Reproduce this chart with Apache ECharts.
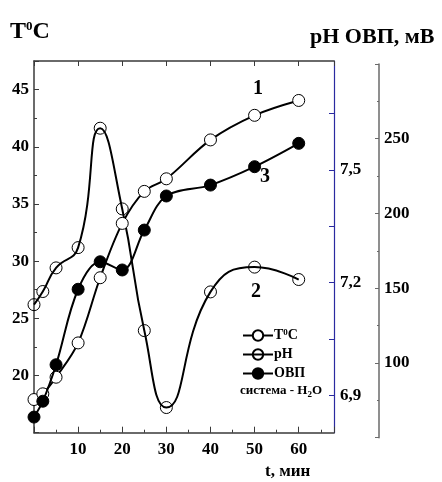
<!DOCTYPE html>
<html>
<head>
<meta charset="utf-8">
<script src="https://cdn.jsdelivr.net/npm/echarts@6/dist/echarts.min.js"></script>
<style>
html,body{margin:0;padding:0;background:#fff;}
#c{width:442px;height:482px;}
</style>
</head>
<body>
<div id="c"></div>
<script>
// ---- data ----
var timeMin = [0, 2, 5, 10, 15, 20, 25, 30, 40, 50, 60];
var tempC   = [17.9, 18.4, 19.85, 22.85, 28.55, 33.3, 36.1, 37.2, 40.6, 42.75, 44.05];
var pHvals  = [7.141, 7.176, 7.239, 7.293, 7.611, 7.396, 7.072, 6.867, 7.175, 7.241, 7.208];
var orpMV   = [63.8, 74.4, 98.8, 149.3, 167.7, 162.2, 188.9, 211.7, 219, 231.3, 246.9];
var xTickLabels = [10, 20, 30, 40, 50, 60];
var tTickLabels = [20, 25, 30, 35, 40, 45];
var pHTickLabels = [6.9, 7.2, 7.5];
var pHTicks = [6.9, 7.05, 7.2, 7.35, 7.5, 7.65];
var orpTickLabels = [100, 150, 200, 250];

function pairs(xs, ys){ return xs.map(function(x,i){ return [x, ys[i]]; }); }

var FONT = '"Liberation Serif", "DejaVu Serif", serif';
var axisDark = '#3a3a3a';
var blue = '#2a2aa0';
var grey = '#6a6a6a';

var chart = echarts.init(document.getElementById('c'), null, {renderer:'canvas'});
var labelStyle = {fontFamily: FONT, fontWeight:'bold', fontSize:17, color:'#000'};

var option = {
  backgroundColor:'#fff',
  animation:false,
  grid:[
    {left:34, right:108, top:61, bottom:49.3},
    {left:34, right:108, top:64, height:373.7}
  ],
  xAxis:[
    {gridIndex:0, type:'value', min:0, max:68, interval:10, position:'bottom',
     axisLine:{onZero:false, lineStyle:{color:axisDark, width:1.5}},
     axisTick:{inside:true, length:6, lineStyle:{color:axisDark}},
     minorTick:{show:true, splitNumber:2, length:3, lineStyle:{color:axisDark}},
     splitLine:{show:false},
     axisLabel:Object.assign({margin:8, customValues: xTickLabels}, labelStyle)
    },
    {gridIndex:0, type:'value', min:0, max:68, interval:10, position:'top',
     axisLine:{onZero:false, lineStyle:{color:axisDark, width:1.5}},
     axisTick:{inside:true, length:5, lineStyle:{color:axisDark}},
     minorTick:{show:false},
     splitLine:{show:false},
     axisLabel:{show:false}
    },
    {gridIndex:1, type:'value', min:0, max:68, show:false}
  ],
  yAxis:[
    {gridIndex:0, type:'value', min:15, max:47.5, interval:5, position:'left',
     axisLine:{show:true, onZero:false, lineStyle:{color:axisDark, width:1.5}},
     axisTick:{show:true, inside:true, length:5, lineStyle:{color:axisDark}},
     minorTick:{show:true, splitNumber:2, length:3, lineStyle:{color:axisDark}},
     splitLine:{show:false},
     axisLabel:Object.assign({margin:5, customValues: tTickLabels}, labelStyle)
    },
    {gridIndex:0, type:'value', min:6.8, max:7.79, position:'right',
     axisLine:{show:true, onZero:false, lineStyle:{color:blue, width:1.2}},
     axisTick:{show:true, inside:true, length:5, customValues: pHTicks, lineStyle:{color:blue}},
     splitLine:{show:false},
     axisLabel:Object.assign({margin:6, customValues: pHTickLabels,
        formatter:function(v){ return v.toFixed(1).replace('.', ','); }}, labelStyle)
    },
    {gridIndex:1, type:'value', min:50, max:300, interval:50, position:'right', offset:45,
     axisLine:{show:true, onZero:false, lineStyle:{color:grey, width:1.5}},
     axisTick:{show:true, inside:true, length:4, lineStyle:{color:grey}},
     minorTick:{show:true, splitNumber:2, length:2, lineStyle:{color:grey}},
     splitLine:{show:false},
     axisLabel:Object.assign({margin:5, customValues: orpTickLabels}, labelStyle)
    }
  ],
  legend:{
    orient:'vertical', left:237, top:323, itemGap:5, itemWidth:30, itemHeight:13,
    data:['T','pH','ОВП'],
    formatter:function(n){ return n==='T' ? '{b|T}{s|0}{b|C}' : '{b|'+n+'}'; },
    textStyle:{fontFamily:FONT, fontWeight:'bold', fontSize:14, color:'#000', padding:[0,0,0,-4],
      rich:{b:{fontFamily:FONT, fontWeight:'bold', fontSize:14, color:'#000'},
            s:{fontFamily:FONT, fontWeight:'bold', fontSize:9, color:'#000', verticalAlign:'top', padding:[0,0,6,0]}}}
  },
  series:[
    {name:'T', type:'line', xAxisIndex:0, yAxisIndex:0, data:pairs(timeMin, tempC), smooth:0.35,
     symbol:'circle', symbolSize:12,
     lineStyle:{color:'#000', width:2},
     itemStyle:{color:'#fff', borderColor:'#000', borderWidth:1}, z:3},
    {name:'pH', type:'line', xAxisIndex:0, yAxisIndex:1, data:pairs(timeMin, pHvals), smooth:0.5,
     symbol:'circle', symbolSize:12,
     lineStyle:{color:'#000', width:2},
     itemStyle:{color:'rgba(255,255,255,0)', borderColor:'#000', borderWidth:1}, z:2},
    {name:'ОВП', type:'line', xAxisIndex:2, yAxisIndex:2, data:pairs(timeMin, orpMV), smooth:0.35,
     symbol:'circle', symbolSize:12,
     lineStyle:{color:'#000', width:2},
     itemStyle:{color:'#000', borderColor:'#000', borderWidth:1}, z:4}
  ],
  graphic:[
    {type:'text', left:10, top:20, style:{text:'{b|T}{s|0}{b|C}', rich:{
       b:{fontFamily:FONT, fontWeight:'bold', fontSize:24, fill:'#000'},
       s:{fontFamily:FONT, fontWeight:'bold', fontSize:13, fill:'#000', verticalAlign:'top', padding:[0,0,10,0]}}}},
    {type:'text', left:310, top:26, style:{text:'pH ОВП, мВ', fontFamily:FONT, fontWeight:'bold', fontSize:22, fill:'#000'}},
    {type:'text', left:253, top:79, style:{text:'1', fontFamily:FONT, fontWeight:'bold', fontSize:20, fill:'#000'}},
    {type:'text', left:251, top:282, style:{text:'2', fontFamily:FONT, fontWeight:'bold', fontSize:20, fill:'#000'}},
    {type:'text', left:260, top:167, style:{text:'3', fontFamily:FONT, fontWeight:'bold', fontSize:20, fill:'#000'}},
    {type:'text', left:240, top:384, style:{text:'система - H{sub|2}O', fontFamily:FONT, fontWeight:'bold', fontSize:13, fill:'#000',
       rich:{sub:{fontFamily:FONT, fontWeight:'bold', fontSize:9, fill:'#000', verticalAlign:'bottom', padding:[8,0,0,0]}}}},
    {type:'text', left:265, top:463, style:{text:'t, мин', fontFamily:FONT, fontWeight:'bold', fontSize:17, fill:'#000'}}
  ]
};
chart.setOption(option);
</script>
</body>
</html>
